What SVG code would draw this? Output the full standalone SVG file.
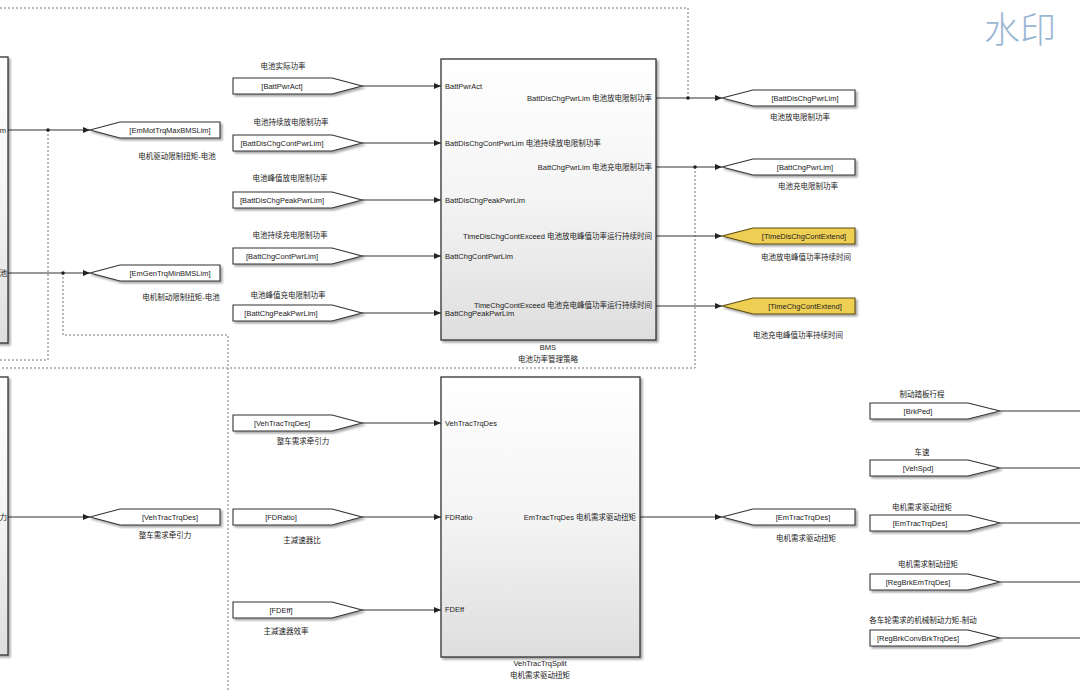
<svg xmlns="http://www.w3.org/2000/svg" width="1080" height="692" viewBox="0 0 1080 692">
<defs>
<style>
text{font-family:"Liberation Sans","Noto Sans CJK SC",sans-serif;font-size:7.5px;fill:#222}
.c{text-anchor:middle}
.e{text-anchor:end}
.blk{stroke:#333;stroke-width:1.3;fill:url(#g)}
.tag{fill:#fff;stroke:#333;stroke-width:1.1}
.yel{fill:#efcf52;stroke:#5a4a10;stroke-width:1.1}
.sig{fill:none;stroke:#333;stroke-width:1}
.arr{fill:none;stroke:#333;stroke-width:1;marker-end:url(#ah)}
.dash{fill:none;stroke:#777;stroke-width:1;stroke-dasharray:2 2}
.dot{fill:#222}
.wm{font-family:"Noto Sans CJK SC",sans-serif;font-size:36px;font-weight:300;fill:#9ab7d2}
</style>
<linearGradient id="g" x1="0" y1="0" x2="0" y2="1">
<stop offset="0" stop-color="#ffffff"/>
<stop offset="0.5" stop-color="#f4f4f4"/>
<stop offset="1" stop-color="#dedede"/>
</linearGradient>
<filter id="sh" x="-10%" y="-10%" width="130%" height="130%">
<feDropShadow dx="2" dy="2" stdDeviation="1.2" flood-color="#000" flood-opacity="0.35"/>
</filter>
<marker id="ah" markerWidth="7" markerHeight="6" refX="7" refY="3" orient="auto" markerUnits="userSpaceOnUse">
<path d="M0,0 L7,3 L0,6 Z" fill="#222"/>
</marker>
</defs>
<rect width="1080" height="692" fill="#fff"/>

<g id="connectors">
<path class="dash" d="M0,8 H688 V98"/>
<path class="dash" d="M695,167 V368 H0"/>
<path class="dash" d="M48,130 V360 H0"/>
<path class="dash" d="M63,273 V335 H228 V692"/>
<path class="arr" d="M8,130 H90"/>
<path class="arr" d="M8,273 H90"/>
<path class="arr" d="M8,517 H90"/>
<path class="arr" d="M362,86 H441"/>
<path class="arr" d="M362,143 H441"/>
<path class="arr" d="M362,200 H441"/>
<path class="arr" d="M362,256 H441"/>
<path class="arr" d="M362,313 H441"/>
<path class="arr" d="M656,98 H722"/>
<path class="arr" d="M656,167 H722"/>
<path class="arr" d="M656,236 H722"/>
<path class="arr" d="M656,306 H722"/>
<path class="arr" d="M362,423 H441"/>
<path class="arr" d="M362,517 H441"/>
<path class="arr" d="M362,610 H441"/>
<path class="arr" d="M640,517 H722"/>
<path class="sig" d="M1000,411 H1080"/>
<path class="sig" d="M1000,468 H1080"/>
<path class="sig" d="M1000,523 H1080"/>
<path class="sig" d="M1000,582 H1080"/>
<path class="sig" d="M1000,638 H1080"/>
<circle class="dot" cx="48" cy="130" r="1.8"/>
<circle class="dot" cx="63" cy="273" r="1.8"/>
<circle class="dot" cx="688" cy="98" r="1.8"/>
<circle class="dot" cx="695" cy="167" r="1.8"/>
</g>

<g id="left-block-1">
<rect class="blk" x="-10" y="57" width="18" height="286" filter="url(#sh)"/>
<text class="e" x="6" y="132.5">m</text>
<text class="e" x="7" y="275.5">池</text>
</g>
<g id="left-block-2">
<rect class="blk" x="-10" y="377" width="18" height="278" filter="url(#sh)"/>
<text class="e" x="7" y="519.5">力</text>
</g>

<g id="goto-EmMotTrqMaxBMSLim">
<path class="tag" filter="url(#sh)" d="M90,130 L120,122 H220 V138 H120 Z"/>
<text class="c" x="170" y="132.5">[EmMotTrqMaxBMSLim]</text>
<text class="c" x="177" y="158.5">电机驱动限制扭矩-电池</text>
</g>
<g id="goto-EmGenTrqMinBMSLim">
<path class="tag" filter="url(#sh)" d="M90,273 L120,265 H220 V281 H120 Z"/>
<text class="c" x="170" y="275.5">[EmGenTrqMinBMSLim]</text>
<text class="c" x="181" y="299.5">电机制动限制扭矩-电池</text>
</g>
<g id="goto-VehTracTrqDes-left">
<path class="tag" filter="url(#sh)" d="M90,517 L120,509 H220 V525 H120 Z"/>
<text class="c" x="170" y="519.5">[VehTracTrqDes]</text>
<text class="c" x="165" y="537.5">整车需求牵引力</text>
</g>

<g id="from-BattPwrAct">
<text class="c" x="283" y="69">电池实际功率</text>
<path class="tag" filter="url(#sh)" d="M233,78 H332 L362,86 L332,94 H233 Z"/>
<text class="c" x="282" y="88.5">[BattPwrAct]</text>
</g>
<g id="from-BattDisChgContPwrLim">
<text class="c" x="291" y="124.5">电池持续放电限制功率</text>
<path class="tag" filter="url(#sh)" d="M233,135 H332 L362,143 L332,151 H233 Z"/>
<text class="c" x="282" y="145.5">[BattDisChgContPwrLim]</text>
</g>
<g id="from-BattDisChgPeakPwrLim">
<text class="c" x="290" y="181">电池峰值放电限制功率</text>
<path class="tag" filter="url(#sh)" d="M233,192 H332 L362,200 L332,208 H233 Z"/>
<text class="c" x="282" y="202.5">[BattDisChgPeakPwrLim]</text>
</g>
<g id="from-BattChgContPwrLim">
<text class="c" x="290" y="237.5">电池持续充电限制功率</text>
<path class="tag" filter="url(#sh)" d="M233,248 H332 L362,256 L332,264 H233 Z"/>
<text class="c" x="282" y="258.5">[BattChgContPwrLim]</text>
</g>
<g id="from-BattChgPeakPwrLim">
<text class="c" x="288" y="297.5">电池峰值充电限制功率</text>
<path class="tag" filter="url(#sh)" d="M233,305 H332 L362,313 L332,321 H233 Z"/>
<text class="c" x="281" y="315.5">[BattChgPeakPwrLim]</text>
</g>

<g id="BMS">
<rect class="blk" x="441" y="59" width="215" height="281" filter="url(#sh)"/>
<text x="445" y="88.5">BattPwrAct</text>
<text x="445" y="145.5">BattDisChgContPwrLim 电池持续放电限制功率</text>
<text x="445" y="202.5">BattDisChgPeakPwrLim</text>
<text x="445" y="258.5">BattChgContPwrLim</text>
<text x="445" y="315.5">BattChgPeakPwrLim</text>
<text class="e" x="652" y="100.5">BattDisChgPwrLim 电池放电限制功率</text>
<text class="e" x="652" y="169.5">BattChgPwrLim 电池充电限制功率</text>
<text class="e" x="652" y="238.5">TimeDisChgContExceed 电池放电峰值功率运行持续时间</text>
<text class="e" x="652" y="308">TimeChgContExceed 电池充电峰值功率运行持续时间</text>
<text class="c" x="548" y="349.5">BMS</text>
<text class="c" x="548" y="362">电池功率管理策略</text>
</g>

<g id="goto-BattDisChgPwrLim">
<path class="tag" filter="url(#sh)" d="M722,98 L753,90 H855 V106 H753 Z"/>
<text class="c" x="805" y="100.5">[BattDisChgPwrLim]</text>
<text class="c" x="800" y="119.5">电池放电限制功率</text>
</g>
<g id="goto-BattChgPwrLim">
<path class="tag" filter="url(#sh)" d="M722,167 L753,159 H855 V175 H753 Z"/>
<text class="c" x="805" y="169.5">[BattChgPwrLim]</text>
<text class="c" x="808" y="188.5">电池充电限制功率</text>
</g>
<g id="goto-TimeDisChgContExtend">
<path class="yel" filter="url(#sh)" d="M722,236 L753,228 H855 V244 H753 Z"/>
<text class="c" x="804" y="238.5">[TimeDisChgContExtend]</text>
<text class="c" x="806" y="259.5">电池放电峰值功率持续时间</text>
</g>
<g id="goto-TimeChgContExtend">
<path class="yel" filter="url(#sh)" d="M722,306 L753,298 H855 V314 H753 Z"/>
<text class="c" x="805" y="308.5">[TimeChgContExtend]</text>
<text class="c" x="798" y="337.5">电池充电峰值功率持续时间</text>
</g>

<g id="from-VehTracTrqDes">
<path class="tag" filter="url(#sh)" d="M233,415 H332 L362,423 L332,431 H233 Z"/>
<text class="c" x="282" y="425.5">[VehTracTrqDes]</text>
<text class="c" x="303" y="443.5">整车需求牵引力</text>
</g>
<g id="from-FDRatio">
<path class="tag" filter="url(#sh)" d="M233,509 H332 L362,517 L332,525 H233 Z"/>
<text class="c" x="281" y="519.5">[FDRatio]</text>
<text class="c" x="302" y="542.5">主减速器比</text>
</g>
<g id="from-FDEff">
<path class="tag" filter="url(#sh)" d="M233,602 H332 L362,610 L332,618 H233 Z"/>
<text class="c" x="281" y="612.5">[FDEff]</text>
<text class="c" x="286" y="633.5">主减速器效率</text>
</g>

<g id="VehTracTrqSplit">
<rect class="blk" x="441" y="377" width="199" height="280" filter="url(#sh)"/>
<text x="445" y="425.5">VehTracTrqDes</text>
<text x="445" y="519.5">FDRatio</text>
<text x="445" y="611.5">FDEff</text>
<text class="e" x="636" y="519.5">EmTracTrqDes 电机需求驱动扭矩</text>
<text class="c" x="540" y="665.5">VehTracTrqSplit</text>
<text class="c" x="540" y="678">电机需求驱动扭矩</text>
</g>

<g id="goto-EmTracTrqDes">
<path class="tag" filter="url(#sh)" d="M722,517 L753,509 H855 V525 H753 Z"/>
<text class="c" x="803" y="519.5">[EmTracTrqDes]</text>
<text class="c" x="806" y="540.5">电机需求驱动扭矩</text>
</g>

<g id="from-BrkPed">
<text class="c" x="922" y="396.5">制动踏板行程</text>
<path class="tag" filter="url(#sh)" d="M870,403 H968 L1000,411 L968,419 H870 Z"/>
<text class="c" x="918" y="413.5">[BrkPed]</text>
</g>
<g id="from-VehSpd">
<text class="c" x="922" y="454.5">车速</text>
<path class="tag" filter="url(#sh)" d="M870,460 H968 L1000,468 L968,476 H870 Z"/>
<text class="c" x="918" y="470.5">[VehSpd]</text>
</g>
<g id="from-EmTracTrqDes">
<text class="c" x="922" y="509.5">电机需求驱动扭矩</text>
<path class="tag" filter="url(#sh)" d="M870,515 H968 L1000,523 L968,531 H870 Z"/>
<text class="c" x="920" y="525.5">[EmTracTrqDes]</text>
</g>
<g id="from-RegBrkEmTrqDes">
<text class="c" x="928" y="566.5">电机需求制动扭矩</text>
<path class="tag" filter="url(#sh)" d="M870,574 H968 L1000,582 L968,590 H870 Z"/>
<text class="c" x="918" y="584.5">[RegBrkEmTrqDes]</text>
</g>
<g id="from-RegBrkConvBrkTrqDes">
<text class="c" x="923" y="622.5">各车轮需求的机械制动力矩-制动</text>
<path class="tag" filter="url(#sh)" d="M870,630 H968 L1000,638 L968,646 H870 Z"/>
<text class="c" x="918" y="640.5">[RegBrkConvBrkTrqDes]</text>
</g>

<text class="wm" x="984" y="43">水印</text>
</svg>
